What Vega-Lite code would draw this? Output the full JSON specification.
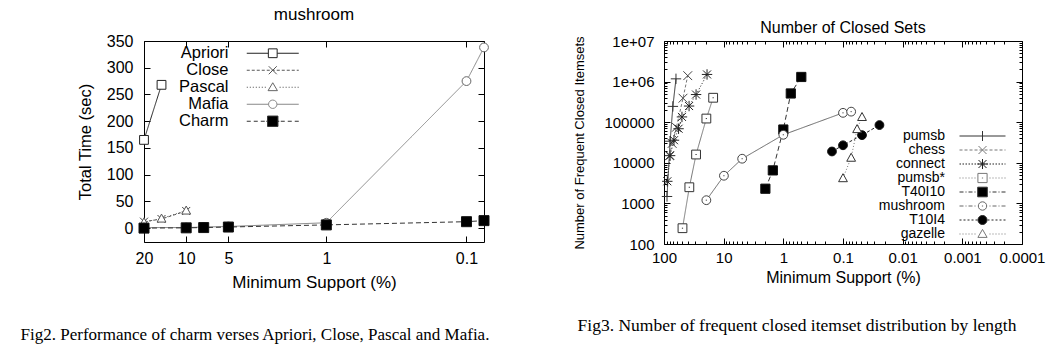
{
"$schema": "https://vega.github.io/schema/vega-lite/v6.json",
"background": "white",
"padding": {"left": 20, "top": 5, "right": 0, "bottom": 0},
"bounds": "flush",
"align": "each",
"columns": 2,
"spacing": {"row": 17, "column": 180},
"config": {
 "font": "Liberation Sans",
 "view": {"stroke": "black", "strokeWidth": 1},
 "axis": {"grid": false, "domain": false, "tickColor": "black", "tickWidth": 1, "labelColor": "black", "titleColor": "black", "labelFont": "Liberation Sans", "titleFont": "Liberation Sans", "titleFontWeight": "normal", "labelFlush": false, "labelOverlap": false, "labelBound": false},
 "legend": {"labelColor": "black", "labelFont": "Liberation Sans", "padding": 0, "symbolStrokeWidth": 1, "labelLimit": 300},
 "title": {"font": "Liberation Sans", "fontWeight": "normal", "color": "black", "frame": "group", "anchor": "middle"}
},
"concat": [
  {
   "width": 340, "height": 201,
   "title": {"text": "mushroom", "fontSize": 17, "offset": 9},
   "data": {"values": [
    {"s": "Apriori", "sup": 20, "t": 165}, {"s": "Apriori", "sup": 15, "t": 268},
    {"s": "Close", "sup": 20, "t": 12}, {"s": "Close", "sup": 15, "t": 17}, {"s": "Close", "sup": 10, "t": 32},
    {"s": "Pascal", "sup": 20, "t": 11}, {"s": "Pascal", "sup": 15, "t": 18}, {"s": "Pascal", "sup": 10, "t": 33},
    {"s": "Mafia", "sup": 20, "t": 1}, {"s": "Mafia", "sup": 10, "t": 1}, {"s": "Mafia", "sup": 7.5, "t": 2}, {"s": "Mafia", "sup": 5, "t": 3}, {"s": "Mafia", "sup": 1, "t": 10}, {"s": "Mafia", "sup": 0.1, "t": 275}, {"s": "Mafia", "sup": 0.075, "t": 338},
    {"s": "Charm", "sup": 20, "t": 0}, {"s": "Charm", "sup": 10, "t": 0.5}, {"s": "Charm", "sup": 7.5, "t": 1}, {"s": "Charm", "sup": 5, "t": 2}, {"s": "Charm", "sup": 1, "t": 6}, {"s": "Charm", "sup": 0.1, "t": 12}, {"s": "Charm", "sup": 0.075, "t": 14}
   ]},
   "resolve": {"axis": {"x": "independent", "y": "independent"}, "scale": {"shape": "independent", "fill": "independent", "stroke": "independent"}},
   "layer": [
    {
     "mark": {"type": "line", "strokeWidth": 1},
     "encoding": {
      "x": {"field": "sup", "type": "quantitative", "scale": {"type": "log", "domain": [0.075, 20], "reverse": true, "nice": false},
        "axis": {"orient": "bottom", "values": [20, 10, 5, 1, 0.1], "labelExpr": "format(datum.value, '~g')", "tickSize": -6, "labelPadding": 14, "labelFontSize": 16, "title": "Minimum Support (%)", "titleFontSize": 17, "titlePadding": 8}},
      "y": {"field": "t", "type": "quantitative", "scale": {"domain": [-26, 350], "nice": false, "zero": false},
        "axis": {"orient": "left", "values": [0, 50, 100, 150, 200, 250, 300, 350], "tickSize": -6, "labelPadding": 17, "labelFontSize": 16, "title": "Total Time (sec)", "titleFontSize": 16.5, "titlePadding": 13}},
      "stroke": {"field": "s", "type": "nominal", "legend": null, "scale": {"domain": ["Apriori", "Close", "Pascal", "Mafia", "Charm"], "range": ["#222222", "#555555", "#666666", "#888888", "#333333"]}},
      "strokeDash": {"field": "s", "type": "nominal", "legend": null, "scale": {"domain": ["Apriori", "Close", "Pascal", "Mafia", "Charm"], "range": [[1, 0], [3, 2], [1, 2], [1, 0], [5, 3]]}}
     }
    },
    {
     "mark": {"type": "point", "filled": true, "opacity": 1, "size": 64, "strokeWidth": 1},
     "encoding": {
      "x": {"field": "sup", "type": "quantitative", "axis": {"orient": "top", "values": [20, 10, 5, 1, 0.1], "labels": false, "tickSize": -6, "title": null}},
      "y": {"field": "t", "type": "quantitative", "axis": {"orient": "right", "values": [0, 50, 100, 150, 200, 250, 300, 350], "labels": false, "tickSize": -6, "title": null}},
      "shape": {"field": "s", "type": "nominal", "legend": null, "scale": {"domain": ["Apriori", "Close", "Pascal", "Mafia", "Charm"], "range": ["M-1.1,-1.1H1.1V1.1H-1.1Z", "M-1,-1L1,1M-1,1L1,-1", "M0,-1.1L1.1,0.9L-1.1,0.9Z", "M1.1,0A1.1,1.1 0 1 1 -1.1,0A1.1,1.1 0 1 1 1.1,0Z", "M-1.25,-1.25H1.25V1.25H-1.25Z"]}},
      "fill": {"field": "s", "type": "nominal", "legend": null, "scale": {"domain": ["Apriori", "Close", "Pascal", "Mafia", "Charm"], "range": ["white", "white", "white", "white", "black"]}},
      "stroke": {"field": "s", "type": "nominal", "legend": null, "scale": {"domain": ["Apriori", "Close", "Pascal", "Mafia", "Charm"], "range": ["#222222", "#444444", "#555555", "#666666", "#111111"]}}
     }
    },
    {
     "transform": [{"filter": "false"}],
     "mark": {"type": "point", "filled": true, "opacity": 1, "size": 4, "strokeWidth": 1},
     "encoding": {
      "shape": {"field": "s", "type": "nominal", "scale": {"domain": ["Apriori", "Close", "Pascal", "Mafia", "Charm"], "range": [
        "M-26,0H-4.5M4.5,0H26M-4.4,-4.4H4.4V4.4H-4.4Z",
        "M-26,0H-23M-21,0H-18M-16,0H-13M-11,0H-8M-6,0H-3M-1,0H2M4,0H7M9,0H12M14,0H17M19,0H22M24,0H26M-4,-4L4,4M-4,4L4,-4",
        "M-26,0H-24.8M-23,0H-21.8M-20,0H-18.8M-17,0H-15.8M-14,0H-12.8M-11,0H-9.8M-8,0H-6.8M6.8,0H8M9.8,0H11M12.8,0H14M15.8,0H17M18.8,0H20M21.8,0H23M24.8,0H26M0,-4.5L4.7,3.4L-4.7,3.4Z",
        "M-26,0H-4.2M4.2,0H26M4.2,0A4.2,4.2 0 1 1 -4.2,0A4.2,4.2 0 1 1 4.2,0Z",
        "M-26,0H-22M-19,0H-15M-12,0H-8M-6.5,0H-5.2M5.2,0H6.5M8,0H12M15,0H19M22,0H26M-5.2,-5.2H5.2V5.2H-5.2Z"]},
        "legend": {"orient": "none", "legendX": 120.5, "legendY": 4, "title": null, "symbolSize": 4, "symbolStrokeWidth": 1, "labelFontSize": 16.5, "labelAlign": "right", "labelOffset": -52.5, "rowPadding": -1.5, "padding": 0}},
      "fill": {"field": "s", "type": "nominal", "scale": {"domain": ["Apriori", "Close", "Pascal", "Mafia", "Charm"], "range": ["white", "white", "white", "white", "black"]}},
      "stroke": {"field": "s", "type": "nominal", "scale": {"domain": ["Apriori", "Close", "Pascal", "Mafia", "Charm"], "range": ["#222222", "#555555", "#666666", "#888888", "#333333"]}}
     }
    }
   ]
  },
  {
   "width": 358, "height": 203,
   "title": {"text": "Number of Closed Sets", "fontSize": 16, "offset": -2},
   "data": {"values": [
    {"s": "pumsb", "sup": 89, "n": 1480}, {"s": "pumsb", "sup": 79, "n": 34000}, {"s": "pumsb", "sup": 71, "n": 245000}, {"s": "pumsb", "sup": 63, "n": 1170000},
    {"s": "chess", "sup": 81, "n": 15000}, {"s": "chess", "sup": 73, "n": 30000}, {"s": "chess", "sup": 62, "n": 75000}, {"s": "chess", "sup": 48, "n": 390000}, {"s": "chess", "sup": 40, "n": 1400000},
    {"s": "connect", "sup": 88, "n": 3500}, {"s": "connect", "sup": 79, "n": 15000}, {"s": "connect", "sup": 68, "n": 36000}, {"s": "connect", "sup": 57, "n": 69000}, {"s": "connect", "sup": 50, "n": 135000}, {"s": "connect", "sup": 38, "n": 250000}, {"s": "connect", "sup": 29, "n": 480000}, {"s": "connect", "sup": 19, "n": 1500000},
    {"s": "pumsb*", "sup": 49, "n": 245}, {"s": "pumsb*", "sup": 37.6, "n": 2500}, {"s": "pumsb*", "sup": 29, "n": 16000}, {"s": "pumsb*", "sup": 19.5, "n": 123000}, {"s": "pumsb*", "sup": 15, "n": 400000},
    {"s": "T40I10", "sup": 2, "n": 2300}, {"s": "T40I10", "sup": 1.5, "n": 6500}, {"s": "T40I10", "sup": 1, "n": 66000}, {"s": "T40I10", "sup": 0.75, "n": 510000}, {"s": "T40I10", "sup": 0.5, "n": 1300000},
    {"s": "mushroom", "sup": 19.5, "n": 1200}, {"s": "mushroom", "sup": 9.9, "n": 4800}, {"s": "mushroom", "sup": 4.9, "n": 12600}, {"s": "mushroom", "sup": 1, "n": 49000}, {"s": "mushroom", "sup": 0.1, "n": 170000}, {"s": "mushroom", "sup": 0.073, "n": 182000},
    {"s": "T10I4", "sup": 0.153, "n": 19000}, {"s": "T10I4", "sup": 0.1, "n": 27000}, {"s": "T10I4", "sup": 0.048, "n": 48000}, {"s": "T10I4", "sup": 0.0245, "n": 85000},
    {"s": "gazelle", "sup": 0.1, "n": 4200}, {"s": "gazelle", "sup": 0.073, "n": 13400}, {"s": "gazelle", "sup": 0.058, "n": 68000}, {"s": "gazelle", "sup": 0.048, "n": 135000}
   ]},
   "resolve": {"axis": {"x": "independent", "y": "independent"}, "scale": {"shape": "independent", "fill": "independent", "stroke": "independent"}},
   "layer": [
    {
     "mark": {"type": "line", "strokeWidth": 1},
     "encoding": {
      "x": {"field": "sup", "type": "quantitative", "scale": {"type": "log", "domain": [0.0001, 100], "reverse": true, "nice": false},
        "axis": {"orient": "bottom", "values": [100, 10, 1, 0.1, 0.01, 0.001, 0.0001], "labelExpr": "format(datum.value, '~g')", "tickSize": -6, "labelPadding": 12, "labelFontSize": 15, "title": "Minimum Support (%)", "titleFontSize": 16, "titlePadding": 4}},
      "y": {"field": "n", "type": "quantitative", "scale": {"type": "log", "domain": [100, 10000000], "nice": false},
        "axis": {"orient": "left", "values": [100, 1000, 10000, 100000, 1000000, 10000000], "labelExpr": "datum.value >= 1e7 ? '1e+07' : datum.value >= 1e6 ? '1e+06' : format(datum.value, 'd')", "tickSize": -6, "labelPadding": 16, "labelFontSize": 15, "title": "Number of Frequent Closed Itemsets", "titleFontSize": 13, "titlePadding": 17}},
      "stroke": {"field": "s", "type": "nominal", "legend": null, "scale": {"domain": ["pumsb", "chess", "connect", "pumsb*", "T40I10", "mushroom", "T10I4", "gazelle"], "range": ["#333333", "#777777", "#222222", "#777777", "#333333", "#666666", "#222222", "#777777"]}},
      "strokeDash": {"field": "s", "type": "nominal", "legend": null, "scale": {"domain": ["pumsb", "chess", "connect", "pumsb*", "T40I10", "mushroom", "T10I4", "gazelle"], "range": [[1, 0], [3, 2], [1.5, 1.5], [1, 1.5], [5, 2, 1, 2], [4, 2, 1, 2], [2, 2], [1, 2]]}}
     }
    },
    {
     "mark": {"type": "point", "filled": true, "opacity": 1, "size": 64, "strokeWidth": 1},
     "encoding": {
      "x": {"field": "sup", "type": "quantitative", "axis": {"orient": "top", "values": [100, 10, 1, 0.1, 0.01, 0.001, 0.0001], "labels": false, "tickSize": -6, "title": null}},
      "y": {"field": "n", "type": "quantitative", "axis": {"orient": "right", "values": [100, 1000, 10000, 100000, 1000000, 10000000], "labels": false, "tickSize": -6, "title": null}},
      "shape": {"field": "s", "type": "nominal", "legend": null, "scale": {"domain": ["pumsb", "chess", "connect", "pumsb*", "T40I10", "mushroom", "T10I4", "gazelle"], "range": [
        "M-1.3,0H1.3M0,-1.3V1.3",
        "M-1.1,-1.1L1.1,1.1M-1.1,1.1L1.1,-1.1",
        "M-1,-1L1,1M-1,1L1,-1M0,-1.3V1.3M-1.3,0H1.3",
        "M-1.1,-1.1H1.1V1.1H-1.1ZM-0.15,0H0.15",
        "M-1.15,-1.15H1.15V1.15H-1.15Z",
        "M1.1,0A1.1,1.1 0 1 1 -1.1,0A1.1,1.1 0 1 1 1.1,0ZM-0.15,0H0.15",
        "M1.1,0A1.1,1.1 0 1 1 -1.1,0A1.1,1.1 0 1 1 1.1,0Z",
        "M0,-1.1L1.1,0.9L-1.1,0.9Z"]}},
      "fill": {"field": "s", "type": "nominal", "legend": null, "scale": {"domain": ["pumsb", "chess", "connect", "pumsb*", "T40I10", "mushroom", "T10I4", "gazelle"], "range": ["white", "white", "white", "white", "black", "white", "black", "white"]}},
      "stroke": {"field": "s", "type": "nominal", "legend": null, "scale": {"domain": ["pumsb", "chess", "connect", "pumsb*", "T40I10", "mushroom", "T10I4", "gazelle"], "range": ["#333333", "#444444", "#222222", "#333333", "#111111", "#444444", "#111111", "#333333"]}}
     }
    },
    {
     "transform": [{"filter": "false"}],
     "mark": {"type": "point", "filled": true, "opacity": 1, "size": 4, "strokeWidth": 1},
     "encoding": {
      "x": {"field": "sup", "type": "quantitative", "axis": {"orient": "bottom", "values": [0.0002, 0.0003, 0.0004, 0.0005, 0.0006, 0.0007, 0.0008, 0.0009, 0.002, 0.003, 0.004, 0.005, 0.006, 0.007, 0.008, 0.009, 0.02, 0.03, 0.04, 0.05, 0.06, 0.07, 0.08, 0.09, 0.2, 0.3, 0.4, 0.5, 0.6, 0.7, 0.8, 0.9, 2, 3, 4, 5, 6, 7, 8, 9, 20, 30, 40, 50, 60, 70, 80, 90], "labels": false, "tickSize": -3, "title": null}},
      "y": {"field": "n", "type": "quantitative", "axis": {"orient": "left", "values": [200, 300, 400, 500, 600, 700, 800, 900, 2000, 3000, 4000, 5000, 6000, 7000, 8000, 9000, 20000, 30000, 40000, 50000, 60000, 70000, 80000, 90000, 200000, 300000, 400000, 500000, 600000, 700000, 800000, 900000, 2000000, 3000000, 4000000, 5000000, 6000000, 7000000, 8000000, 9000000], "labels": false, "tickSize": -3, "title": null}},
      "shape": {"field": "s", "type": "nominal", "scale": {"domain": ["pumsb", "chess", "connect", "pumsb*", "T40I10", "mushroom", "T10I4", "gazelle"], "range": [
        "M-23,0H23M0,-5V5",
        "M-23,0H-20M-18,0H-15M-13,0H-10M-8,0H-5M-3,0H0M2,0H5M7,0H10M12,0H15M17,0H20M22,0H23M-4,-4L4,4M-4,4L4,-4",
        "M-23,0H-21.5M-20,0H-18.5M-17,0H-15.5M-14,0H-12.5M-11,0H-9.5M-8,0H-6.5M-5,0H-3.5M-2,0H-0.5M1,0H2.5M4,0H5.5M7,0H8.5M10,0H11.5M13,0H14.5M16,0H17.5M19,0H20.5M22,0H23M-4,-4L4,4M-4,4L4,-4M0,-5V5M-5,0H5",
        "M-23,0H-22M-20,0H-19M-17,0H-16M-14,0H-13M-11,0H-10M-8,0H-7M7,0H8M10,0H11M13,0H14M16,0H17M19,0H20M22,0H23M-4.6,-4.6H4.6V4.6H-4.6ZM-0.6,0H0.6",
        "M-23,0H-19M-17,0H-16M-14,0H-10M-8,0H-7M7,0H8M10,0H14M16,0H17M19,0H23M-4.8,-4.8H4.8V4.8H-4.8Z",
        "M-23,0H-19M-17,0H-16M-14,0H-10M-8,0H-7M7,0H8M10,0H14M16,0H17M19,0H23M4.2,0A4.2,4.2 0 1 1 -4.2,0A4.2,4.2 0 1 1 4.2,0ZM-0.6,0H0.6",
        "M-23,0H-21M-19,0H-17M-15,0H-13M-11,0H-9M-7,0H-5M5,0H7M9,0H11M13,0H15M17,0H19M21,0H23M4.5,0A4.5,4.5 0 1 1 -4.5,0A4.5,4.5 0 1 1 4.5,0Z",
        "M-23,0H-22M-20,0H-19M-17,0H-16M-14,0H-13M-11,0H-10M-8,0H-7M7,0H8M10,0H11M13,0H14M16,0H17M19,0H20M22,0H23M0,-4.6L4.6,3.4L-4.6,3.4Z"]},
        "legend": {"orient": "none", "legendX": 311.5, "legendY": 88, "title": null, "symbolSize": 4, "symbolStrokeWidth": 1, "labelFontSize": 14, "labelAlign": "right", "labelOffset": -44.5, "rowPadding": 0, "padding": 0}},
      "fill": {"field": "s", "type": "nominal", "scale": {"domain": ["pumsb", "chess", "connect", "pumsb*", "T40I10", "mushroom", "T10I4", "gazelle"], "range": ["white", "white", "white", "white", "black", "white", "black", "white"]}},
      "stroke": {"field": "s", "type": "nominal", "scale": {"domain": ["pumsb", "chess", "connect", "pumsb*", "T40I10", "mushroom", "T10I4", "gazelle"], "range": ["#333333", "#777777", "#222222", "#777777", "#333333", "#666666", "#222222", "#777777"]}}
     }
    },
    {
     "transform": [{"filter": "false"}],
     "mark": {"type": "point", "opacity": 1},
     "encoding": {
      "x": {"field": "sup", "type": "quantitative", "axis": {"orient": "top", "values": [0.0002, 0.0003, 0.0004, 0.0005, 0.0006, 0.0007, 0.0008, 0.0009, 0.002, 0.003, 0.004, 0.005, 0.006, 0.007, 0.008, 0.009, 0.02, 0.03, 0.04, 0.05, 0.06, 0.07, 0.08, 0.09, 0.2, 0.3, 0.4, 0.5, 0.6, 0.7, 0.8, 0.9, 2, 3, 4, 5, 6, 7, 8, 9, 20, 30, 40, 50, 60, 70, 80, 90], "labels": false, "tickSize": -3, "title": null}},
      "y": {"field": "n", "type": "quantitative", "axis": {"orient": "right", "values": [200, 300, 400, 500, 600, 700, 800, 900, 2000, 3000, 4000, 5000, 6000, 7000, 8000, 9000, 20000, 30000, 40000, 50000, 60000, 70000, 80000, 90000, 200000, 300000, 400000, 500000, 600000, 700000, 800000, 900000, 2000000, 3000000, 4000000, 5000000, 6000000, 7000000, 8000000, 9000000], "labels": false, "tickSize": -3, "title": null}}
     }
    }
   ]
  },
  {
   "width": 222, "height": 148,
   "view": {"stroke": null},
   "data": {"values": [{"caption": "Fig2. Performance of charm verses Apriori, Close, Pascal and Mafia."}]},
   "mark": {"type": "text", "font": "Liberation Serif", "fontSize": 17, "color": "black"},
   "encoding": {"text": {"field": "caption"}}
  },
  {
   "width": 266, "height": 130,
   "view": {"stroke": null},
   "data": {"values": [{"caption": "Fig3. Number of frequent closed itemset distribution by length"}]},
   "mark": {"type": "text", "font": "Liberation Serif", "fontSize": 17.5, "color": "black"},
   "encoding": {"text": {"field": "caption"}}
  }
]
}
